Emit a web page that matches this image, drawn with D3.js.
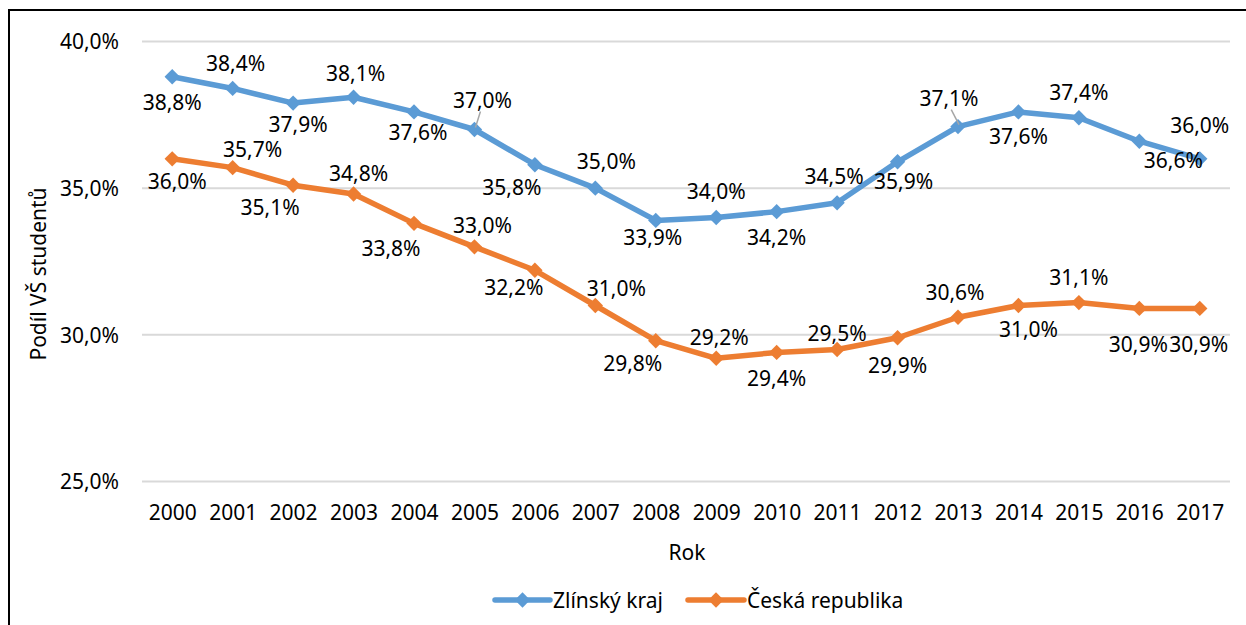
<!DOCTYPE html>
<html>
<head>
<meta charset="utf-8">
<script src="https://cdn.jsdelivr.net/npm/d3@7"></script>
<style>
  html, body { margin: 0; padding: 0; background: #fff; }
  svg { display: block; font-family: "Noto Sans", "Open Sans", sans-serif; }
</style>
</head>
<body>
<svg id="chart" width="1246" height="625"></svg>
<script>
// Share of university students (%) by year
const years = ["2000","2001","2002","2003","2004","2005","2006","2007","2008",
               "2009","2010","2011","2012","2013","2014","2015","2016","2017"];
const zlinskyKraj = [38.8, 38.4, 37.9, 38.1, 37.6, 37.0, 35.8, 35.0, 33.9,
                     34.0, 34.2, 34.5, 35.9, 37.1, 37.6, 37.4, 36.6, 36.0];
const ceskaRepublika = [36.0, 35.7, 35.1, 34.8, 33.8, 33.0, 32.2, 31.0, 29.8,
                        29.2, 29.4, 29.5, 29.9, 30.6, 31.0, 31.1, 30.9, 30.9];
const seriesNames = ["Zlínský kraj", "Česká republika"];
const yTicks = [25, 30, 35, 40];
const yTitle = "Podíl VŠ studentů";
const xTitle = "Rok";

// Data label placement (pixel offsets from each marker)
const zlinLabelOffsets = [[0,25],[3,-25],[5,21],[2,-24],[4,20],[8,-30],[-23,22],[11,-27],[-3,17],
                          [0,-27],[0,25],[-3,-27],[6,19],[-9,-29],[0,24],[0,-26],[34,19],[0,-34]];
const czLabelOffsets = [[5,22],[20,-19],[-23,22],[5,-21],[-23,25],[8,-22],[-21,17],[21,-18],[-23,22],
                        [3,-21],[0,26],[0,-17],[0,27],[-3,-25],[10,23],[0,-26],[-1,36],[-1,36]];
const leaderLines = { zlin: [5, 13] };

const colors = ["#5B9BD5", "#ED7D31"];
const fmt = v => d3.format(".1f")(v).replace(".", ",") + "%";
const FS = 21;

const svg = d3.select("#chart");

// Frame
svg.append("path")
  .attr("d", "M9,625 L9,10 L1246,10")
  .attr("fill", "none").attr("stroke", "#000").attr("stroke-width", 2);

const x = d3.scalePoint().domain(years).range([142, 1230]).padding(0.5);
const y = d3.scaleLinear().domain([25, 40]).range([481.5, 41.5]);

// Gridlines
svg.append("g").selectAll("line").data(yTicks).join("line")
  .attr("x1", 142).attr("x2", 1230)
  .attr("y1", d => y(d)).attr("y2", d => y(d))
  .attr("stroke", "#D9D9D9").attr("stroke-width", 2);

// Y axis
const yAxis = d3.axisLeft(y).tickValues(yTicks).tickSize(0).tickPadding(0)
  .tickFormat(fmt);
const gy = svg.append("g").attr("transform", "translate(119,0)").call(yAxis);
gy.select(".domain").remove();
gy.selectAll("text").attr("font-size", FS).attr("fill", "#000")
  .attr("font-family", "Noto Sans").attr("dy", "0.35em");

// X axis
const xAxis = d3.axisBottom(x).tickSize(0).tickPadding(0);
const gx = svg.append("g").attr("transform", "translate(0,513)").call(xAxis);
gx.select(".domain").remove();
gx.selectAll("text").attr("font-size", FS).attr("fill", "#000")
  .attr("font-family", "Noto Sans").attr("dy", "0.35em");

// Axis titles
svg.append("text").attr("x", 687).attr("y", 552)
  .attr("text-anchor", "middle").attr("dominant-baseline", "central")
  .attr("font-size", FS).attr("fill", "#000").text(xTitle);
svg.append("text")
  .attr("transform", "translate(38,274) rotate(-90)")
  .attr("text-anchor", "middle").attr("dominant-baseline", "central")
  .attr("font-size", FS).attr("fill", "#000").text(yTitle);

const line = d3.line().x((d, i) => x(years[i])).y(d => y(d));
const diamond = d3.symbol().type(d3.symbolSquare).size(118);

const allSeries = [
  { name: seriesNames[0], values: zlinskyKraj, color: colors[0], offsets: zlinLabelOffsets, leaders: leaderLines.zlin },
  { name: seriesNames[1], values: ceskaRepublika, color: colors[1], offsets: czLabelOffsets, leaders: [] }
];

allSeries.forEach(s => {
  const g = svg.append("g");
  g.append("path").datum(s.values)
    .attr("d", line).attr("fill", "none")
    .attr("stroke", s.color).attr("stroke-width", 5.5)
    .attr("stroke-linejoin", "round");
  g.selectAll("path.m").data(s.values).join("path").attr("class", "m")
    .attr("d", diamond)
    .attr("transform", (d, i) => `translate(${x(years[i])},${y(d)}) rotate(45)`)
    .attr("fill", s.color);
  // leader lines for displaced labels
  s.leaders.forEach(i => {
    const px = x(years[i]), py = y(s.values[i]);
    const [dx, dy] = s.offsets[i];
    g.append("line")
      .attr("x1", px + dx * 0.75).attr("y1", py + dy + 12)
      .attr("x2", px + 1).attr("y2", py - 2)
      .attr("stroke", "#A6A6A6").attr("stroke-width", 1.5);
  });
  g.selectAll("text").data(s.values).join("text")
    .attr("x", (d, i) => x(years[i]) + s.offsets[i][0])
    .attr("y", (d, i) => y(d) + s.offsets[i][1])
    .attr("text-anchor", "middle").attr("dominant-baseline", "central")
    .attr("font-size", FS).attr("fill", "#000")
    .text(fmt);
});

// Legend
const legendItems = [
  { name: seriesNames[0], color: colors[0], x1: 495, x2: 550, tx: 553 },
  { name: seriesNames[1], color: colors[1], x1: 688, x2: 744, tx: 747 }
];
const lg = svg.append("g");
legendItems.forEach(it => {
  lg.append("line").attr("x1", it.x1).attr("x2", it.x2).attr("y1", 600).attr("y2", 600)
    .attr("stroke", it.color).attr("stroke-width", 5.5).attr("stroke-linecap", "round");
  lg.append("path").attr("d", diamond)
    .attr("transform", `translate(${(it.x1 + it.x2) / 2},600) rotate(45)`)
    .attr("fill", it.color);
  lg.append("text").attr("x", it.tx).attr("y", 600)
    .attr("dominant-baseline", "central").attr("font-size", FS).attr("fill", "#000")
    .text(it.name);
});
</script>
</body>
</html>
